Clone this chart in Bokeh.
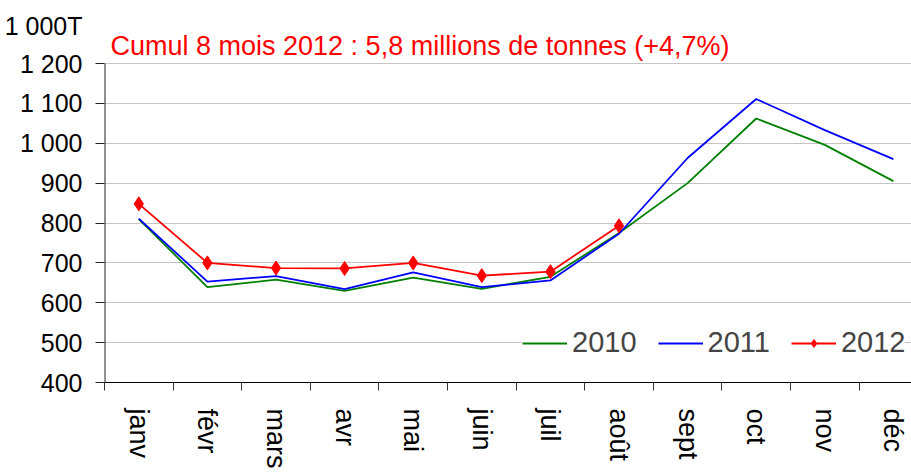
from bokeh.plotting import figure
from bokeh.models import FixedTicker, Label, Range1d
from bokeh.embed import file_html
from bokeh.resources import INLINE

months = ["janv", "févr", "mars", "avr", "mai", "juin", "juil", "août", "sept", "oct", "nov", "déc"]
v2010 = [810, 639, 658, 630, 663, 635, 665, 775, 900, 1062, 996, 905]
v2011 = [811, 653, 667, 634, 676, 639, 656, 773, 963, 1111, 1033, 960]
v2012 = [848, 700, 687, 686, 700, 668, 678, 793]
y_ticks = [400, 500, 600, 700, 800, 900, 1000, 1100, 1200]
y_tick_labels = ["400", "500", "600", "700", "800", "900", "1 000", "1 100", "1 200"]
title_text = "Cumul 8 mois 2012 : 5,8 millions de tonnes (+4,7%)"
unit_text = "1 000T"

FONT = "Liberation Sans"

x = [i + 0.5 for i in range(len(months))]
xb = list(range(len(months) + 1))

# layout constants (pixels)
W, H = 911, 472
LEFT = 104          # frame left
BOTTOM = 90         # space below the frame for month labels
PLOT_H = 319        # pixel height of the 400..1200 span
CAT_W = 68.6        # pixel width of one month
ymin, ymax = y_ticks[0], y_ticks[-1]
upp = (ymax - ymin) / PLOT_H            # data units per pixel
y_top = ymin + (H - BOTTOM) * upp       # frame reaches the top of the canvas

def yval(page_y):
    return ymin + (H - BOTTOM - page_y) * upp

p = figure(width=W, height=H, output_backend="svg", toolbar_location=None,
           x_range=Range1d(0, (W - LEFT) / CAT_W), y_range=Range1d(ymin, y_top),
           min_border_left=LEFT, min_border_right=0, min_border_top=0, min_border_bottom=BOTTOM)
p.outline_line_color = None

# y axis: visible ticks are the minor ticks (400..1200); the unit label sits on an
# extra, invisible major tick above the top of the scale
unit_tick = round(yval(25))
p.yaxis.ticker = FixedTicker(ticks=y_ticks + [unit_tick], minor_ticks=y_ticks)
p.yaxis.major_label_overrides = {**dict(zip(y_ticks, y_tick_labels)), unit_tick: unit_text}
p.yaxis.major_tick_line_color = None
p.yaxis.major_tick_out = 0
p.yaxis.major_tick_in = 0
p.yaxis.minor_tick_out = 9
p.yaxis.minor_tick_in = 0
p.yaxis.minor_tick_line_color = "#222222"
p.yaxis.major_label_standoff = 13
p.yaxis.major_label_text_font = FONT
p.yaxis.major_label_text_font_size = "25px"
p.yaxis.major_label_text_color = "black"
p.yaxis.axis_line_color = None
p.ygrid.ticker = FixedTicker(ticks=y_ticks)
p.ygrid.grid_line_color = "#c4c4c4"
p.ygrid.grid_line_width = 1
p.xgrid.visible = False

# y axis rule from 400 to 1200 along the frame's left edge
p.segment(x0=p.x_range.start, y0=ymin, x1=p.x_range.start, y1=ymax,
          line_color="#222222", line_width=2)

# x axis: labels at month centres, ticks at boundaries
p.xaxis.ticker = FixedTicker(ticks=x, minor_ticks=xb)
p.xaxis.major_label_overrides = dict(zip(x, months))
p.xaxis.major_tick_out = 0
p.xaxis.major_tick_in = 0
p.xaxis.minor_tick_out = 8
p.xaxis.minor_tick_in = 0
p.xaxis.minor_tick_line_color = "#333333"
p.xaxis.major_tick_line_color = None
p.xaxis.axis_line_color = "black"
p.xaxis.major_label_orientation = "vertical"
p.xaxis.major_label_standoff = 18
p.xaxis.major_label_text_font = FONT
p.xaxis.major_label_text_font_size = "27px"
p.xaxis.major_label_text_color = "black"

p.line(x, v2010, color="#008000", line_width=1.8, legend_label="2010")
p.line(x, v2011, color="#0000ff", line_width=1.8, legend_label="2011")
p.line(x[:len(v2012)], v2012, color="#ff0000", line_width=1.8, legend_label="2012")
p.scatter(x[:len(v2012)], v2012, marker="diamond", size=14, color="#ff0000", legend_label="2012")

leg = p.legend[0]
leg.orientation = "horizontal"
leg.location = (418, 23)
leg.label_text_font = FONT
leg.label_text_font_size = "29px"
leg.glyph_width = 45
leg.glyph_height = 20
leg.label_standoff = 5
leg.spacing = 21
leg.padding = 8
leg.margin = 0
leg.border_line_color = None
leg.background_fill_color = "white"
leg.background_fill_alpha = 1.0

# red headline inside the (extended) frame
p.add_layout(Label(x=110 - LEFT, y=H - BOTTOM - 45, x_units="screen", y_units="screen",
                   text=title_text, text_color="#ff0000", text_font=FONT,
                   text_font_size="27px", text_baseline="alphabetic"))

open("out.html", "w").write(file_html(p, INLINE))
